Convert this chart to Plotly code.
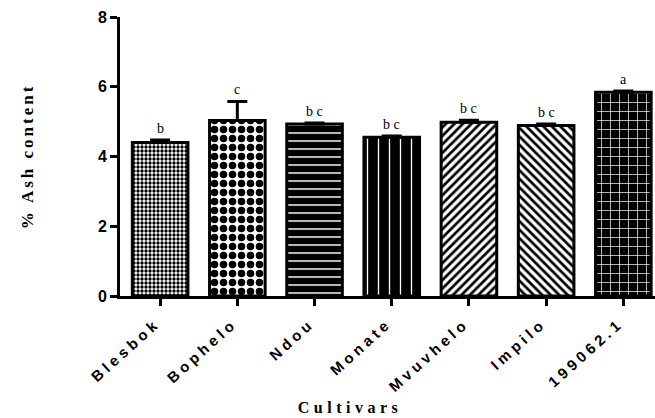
import plotly.graph_objects as go

cultivars = ["Blesbok", "Bophelo", "Ndou", "Monate", "Mvuvhelo", "Impilo", "199062.1"]
ash_mean = [4.40, 5.03, 4.93, 4.55, 4.98, 4.89, 5.84]
ash_err = [0.07, 0.55, 0.03, 0.04, 0.06, 0.04, 0.04]
letters = ["b", "c", "b c", "b c", "b c", "b c", "a"]
y_ticks = [0, 2, 4, 6, 8]

pat_shape = [".", ".", "-", "|", "/", "\\", "+"]
pat_fg = ["black", "black", "white", "white", "black", "black", "white"]
pat_bg = ["white", "white", "black", "black", "white", "white", "black"]
pat_size = [4, 9, 8, 11, 6, 6, 9]
pat_sol = [0.55, 0.55, 0.18, 0.12, 0.45, 0.45, 0.15]

x_idx = list(range(len(cultivars)))

fig = go.Figure()
fig.add_trace(go.Bar(
    x=x_idx, y=ash_mean, width=0.72,
    marker=dict(
        color="black",
        line=dict(color="black", width=3),
        pattern=dict(shape=pat_shape, fgcolor=pat_fg, bgcolor=pat_bg,
                     size=pat_size, solidity=pat_sol, fillmode="replace"),
    ),
    error_y=dict(type="data", array=ash_err, arrayminus=[0] * len(ash_err),
                 symmetric=False, color="black", thickness=3, width=10),
    showlegend=False,
))

for i, (m, e, t) in enumerate(zip(ash_mean, ash_err, letters)):
    fig.add_annotation(x=i, y=m + e, text=t, showarrow=False, yanchor="bottom",
                       yshift=2, font=dict(family="Liberation Serif", size=14, color="#000000"))

# x-axis title (placed as annotation, off-centre like the original)
fig.add_annotation(xref="paper", yref="paper", x=0.43, y=-0.398, text="Cultivars",
                   showarrow=False, xanchor="center", yanchor="middle",
                   font=dict(family="Liberation Serif", size=16, color="black", weight="bold"))

fig.update_layout(
    width=655, height=418,
    margin=dict(l=120, r=0, t=17, b=122),
    plot_bgcolor="white", paper_bgcolor="white",
)
fig.update_xaxes(
    range=[-0.52, 6.41], tickmode="array", tickvals=x_idx, ticktext=cultivars,
    tickangle=-42, ticks="outside", ticklen=7, tickwidth=3, tickcolor="black",
    ticklabelshift=-4, ticklabelstandoff=3,
    showline=True, linecolor="black", linewidth=3, showgrid=False, zeroline=False,
    tickfont=dict(family="Liberation Sans", size=15, color="black", weight="bold"),
)
fig.update_yaxes(
    range=[0, 8], tickmode="array", tickvals=y_ticks,
    ticks="outside", ticklen=7, tickwidth=3, tickcolor="black",
    showline=True, linecolor="black", linewidth=3, showgrid=False, zeroline=False,
    tickfont=dict(family="Liberation Sans", size=16, color="black", weight="bold"),
    title=dict(text="% Ash content", standoff=60,
               font=dict(family="Liberation Serif", size=17, color="black", weight="bold")),
)

post = """
var s=document.createElement('style');
s.innerHTML='html,body{margin:0;padding:0;overflow:hidden} .xtick text{letter-spacing:4px} .annotation[data-index="7"] text{letter-spacing:4.5px} .g-ytitle text{letter-spacing:3px}';
document.head.appendChild(s);
"""
fig.write_html("out.html", post_script=post, config={"displayModeBar": False})
